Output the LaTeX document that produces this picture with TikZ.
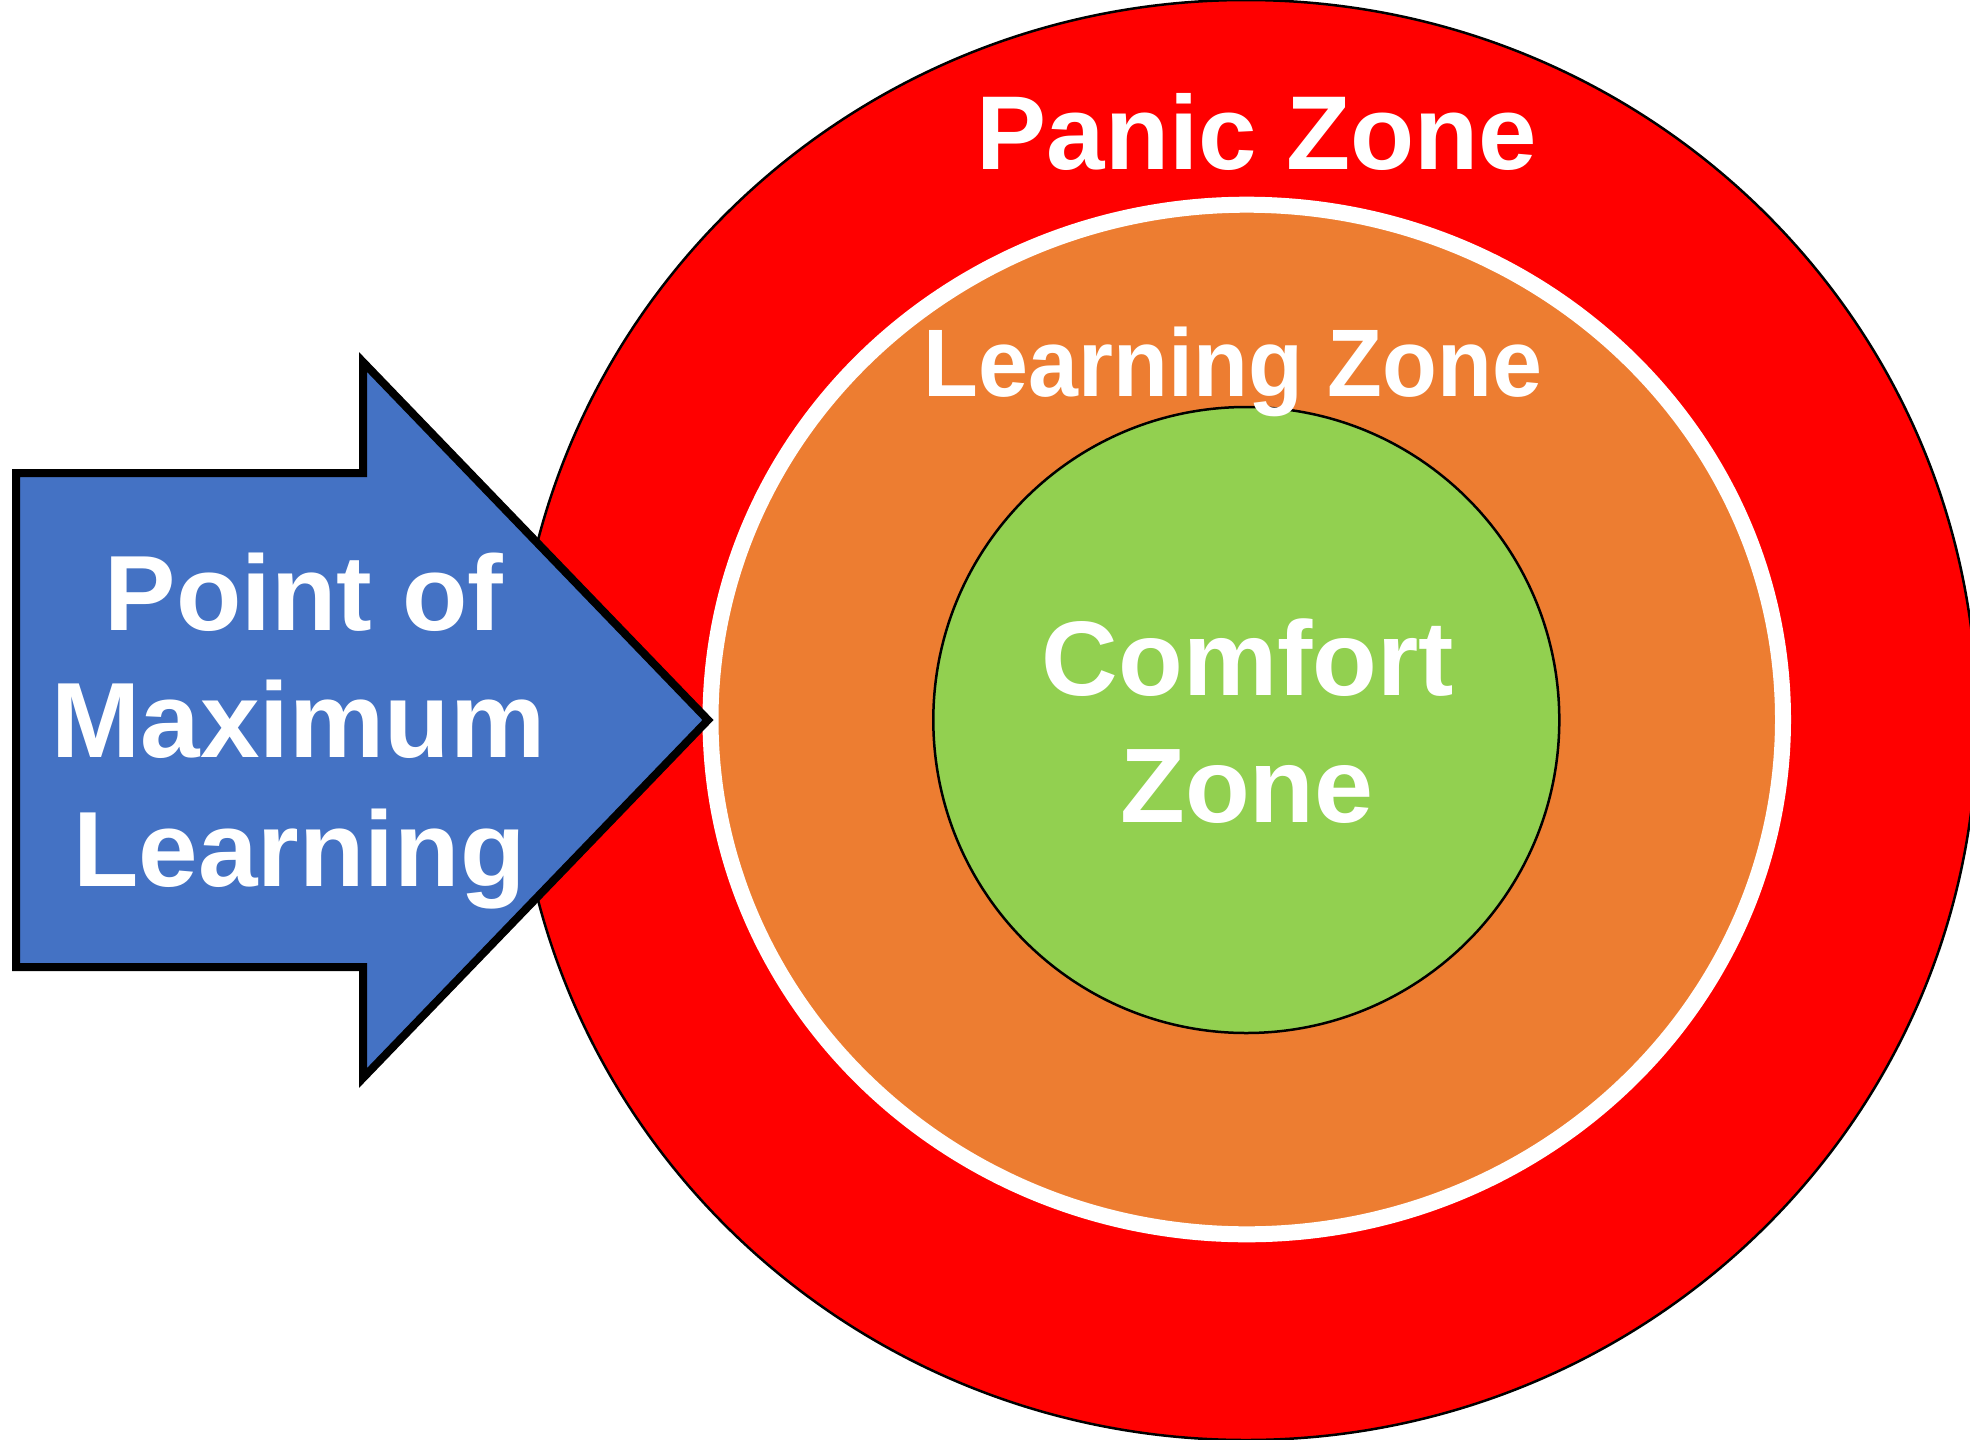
\documentclass[tikz,border=0pt]{standalone}
\usepackage{fontspec}
\setmainfont{Liberation Sans}
\definecolor{zred}{HTML}{FF0000}
\definecolor{zorange}{HTML}{ED7D31}
\definecolor{zgreen}{HTML}{92D050}
\definecolor{zblue}{HTML}{4472C4}
\begin{document}
\begin{tikzpicture}[x=1pt,y=-1pt,
  every node/.style={inner sep=0pt,outer sep=0pt},
  lbl/.style={text=white,anchor=base,font=\bfseries\fontsize{106}{125}\selectfont},
  zoneline/.style={line width=2.5pt,draw=black},
  arrowshape/.style={fill=zblue,draw=black,line width=8pt,line join=miter}]
\useasboundingbox (0,0) rectangle (1970,1440);
\clip (0,0) rectangle (1970,1440);
\fill[white] (0,0) rectangle (1970,1440);
% zones
\draw[zoneline,fill=zred] (1246,720) ellipse [x radius=731pt, y radius=720pt];
\draw[fill=zorange,draw=white,line width=16pt] (1246.75,719.5) ellipse [x radius=536.25pt, y radius=514.8pt];
\draw[zoneline,fill=zgreen] (1246.3,720) circle [radius=313pt];
% zone labels
\node[lbl,font=\bfseries\fontsize{105}{125}\selectfont] (panic) at (1257,169) {Panic Zone};
\node[lbl,font=\bfseries\fontsize{96}{115}\selectfont,xscale=0.935] (learning) at (1233,396.7) {Learning Zone};
\node[lbl] (comfort1) at (1248,695) {Comfort};
\node[lbl] (comfort2) at (1247,822) {Zone};
% arrow
\draw[arrowshape] (16,473) -- (363,473) -- (363,362) -- (708,720) -- (363,1078) -- (363,967) -- (16,967) -- cycle;
\node[lbl,font=\bfseries\fontsize{107}{125}\selectfont] (pml1) at (304,630) {Point of};
\node[lbl,font=\bfseries\fontsize{107}{125}\selectfont] (pml2) at (298.5,757.7) {Maximum};
\node[lbl,font=\bfseries\fontsize{107}{125}\selectfont] (pml3) at (299.5,886) {Learning};
\end{tikzpicture}
\end{document}
